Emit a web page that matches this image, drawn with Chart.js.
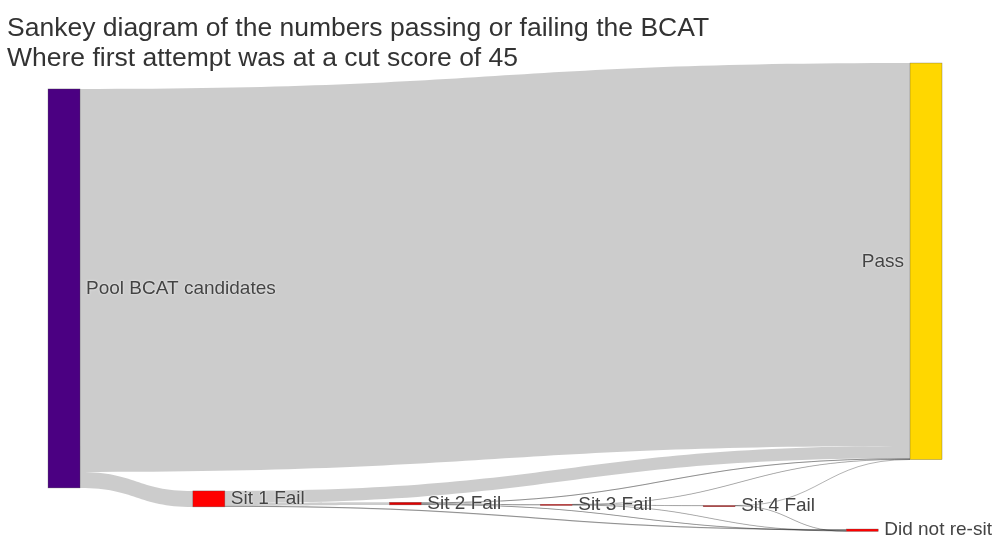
<!DOCTYPE html>
<html>
<head>
<meta charset="utf-8">
<script src="https://cdn.jsdelivr.net/npm/chart.js@4.4.1/dist/chart.umd.min.js"></script>
<style>
  html, body { margin: 0; padding: 0; background: #ffffff; }
  #wrap { width: 992px; height: 537px; position: relative; }
</style>
</head>
<body>
<div id="wrap"><canvas id="c"></canvas></div>
<script>
// ---- data ----
const titleLines = [
  'Sankey diagram of the numbers passing or failing the BCAT',
  'Where first attempt was at a cut score of 45'
];
const nodeLabels = ['Pool BCAT candidates', 'Sit 1 Fail', 'Sit 2 Fail', 'Sit 3 Fail', 'Sit 4 Fail', 'Did not re-sit', 'Pass'];
const linkSource = [0, 0, 1, 1, 1, 2, 2, 2, 3, 3, 3, 4, 4];
const linkTarget = [6, 1, 6, 2, 5, 6, 3, 5, 6, 4, 5, 6, 5];
const linkValue  = [1920, 80, 61, 13, 6, 5, 5, 3, 1, 2, 2, 1, 1];

// ---- layout / style (like plotly node.x / node.y) ----
const nodeX   = [0, 0.168, 0.396, 0.571, 0.760, 0.926, 1];
const nodeTop = [130, 2145, 2202, 2212, 2218, 2336, 0];
const nodeColor = ['#4B0082', '#FF0000', '#E00000', '#E00000', '#C00000', '#FF0000', '#FFD700'];
const nodeThickness = 32;
const labelSide = ['right', 'right', 'right', 'right', 'right', 'right', 'left'];

const sankeyPlugin = {
  id: 'sankeyDraw',
  afterDatasetsDraw(chart) {
    const ctx = chart.ctx;
    const xs = chart.scales.x, ys = chart.scales.y;
    const unit = Math.abs(ys.getPixelForValue(1) - ys.getPixelForValue(0));
    const n = nodeLabels.length;
    const inSum = new Array(n).fill(0), outSum = new Array(n).fill(0);
    linkValue.forEach((v, i) => { outSum[linkSource[i]] += v; inSum[linkTarget[i]] += v; });
    const nodes = nodeLabels.map((l, i) => {
      const val = Math.max(inSum[i], outSum[i]);
      const top = ys.getPixelForValue(nodeTop[i]);
      const left = xs.getPixelForValue(nodeX[i]);
      return { left, right: left + nodeThickness, top, h: val * unit };
    });
    const outOff = new Array(linkValue.length), inOff = new Array(linkValue.length);
    for (let k = 0; k < n; k++) {
      const outs = linkValue.map((v, i) => i).filter(i => linkSource[i] === k)
        .sort((a, b) => nodeTop[linkTarget[a]] - nodeTop[linkTarget[b]]);
      let acc = 0;
      outs.forEach(i => { outOff[i] = acc; acc += linkValue[i] * unit; });
      const ins = linkValue.map((v, i) => i).filter(i => linkTarget[i] === k)
        .sort((a, b) => nodeTop[linkSource[a]] - nodeTop[linkSource[b]]);
      acc = 0;
      ins.forEach(i => { inOff[i] = acc; acc += linkValue[i] * unit; });
    }
    ctx.save();
    // links
    linkValue.forEach((v, i) => {
      const s = nodes[linkSource[i]], t = nodes[linkTarget[i]];
      const w = v * unit;
      const x0 = s.right, x1 = t.left, xm = (x0 + x1) / 2;
      const y0 = s.top + outOff[i], y1 = t.top + inOff[i];
      ctx.beginPath();
      ctx.moveTo(x0, y0);
      ctx.bezierCurveTo(xm, y0, xm, y1, x1, y1);
      ctx.lineTo(x1, y1 + w);
      ctx.bezierCurveTo(xm, y1 + w, xm, y0 + w, x0, y0 + w);
      ctx.closePath();
      ctx.fillStyle = 'rgba(0,0,0,0.2)';
      ctx.fill();
      if (w < 1.5) {
        ctx.beginPath();
        ctx.moveTo(x0, y0 + w / 2);
        ctx.bezierCurveTo(xm, y0 + w / 2, xm, y1 + w / 2, x1, y1 + w / 2);
        ctx.strokeStyle = 'rgba(0,0,0,0.3)';
        ctx.lineWidth = 1;
        ctx.stroke();
      }
    });
    // nodes
    nodes.forEach((nd, i) => {
      const h = Math.max(nd.h, 1.2);
      ctx.fillStyle = nodeColor[i];
      ctx.fillRect(nd.left, nd.top, nodeThickness, h);
      ctx.strokeStyle = 'rgba(68,68,68,0.6)';
      ctx.lineWidth = 0.5;
      ctx.strokeRect(nd.left, nd.top, nodeThickness, h);
    });
    // labels
    ctx.font = '19px "Liberation Sans", Arial, sans-serif';
    ctx.textBaseline = 'middle';
    ctx.fillStyle = '#444';
    ctx.shadowColor = 'rgba(255,255,255,0.9)';
    ctx.shadowBlur = 2;
    nodes.forEach((nd, i) => {
      const cy = nd.top + Math.max(nd.h, 1.2) / 2;
      if (labelSide[i] === 'left') {
        ctx.textAlign = 'right';
        ctx.fillText(nodeLabels[i], nd.left - 6, cy);
      } else {
        ctx.textAlign = 'left';
        ctx.fillText(nodeLabels[i], nd.right + 6, cy);
      }
    });
    ctx.restore();
  }
};

new Chart(document.getElementById('c'), {
  type: 'scatter',
  data: { datasets: [{ data: [], pointRadius: 0 }] },
  options: {
    responsive: true,
    maintainAspectRatio: false,
    animation: false,
    events: [],
    layout: { padding: { left: 7, right: 7, top: 0, bottom: 0 } },
    scales: {
      x: { type: 'linear', display: false, min: -0.0476, max: 1.087 },
      y: { type: 'linear', display: false, reverse: true, min: 55, max: 2376 }
    },
    plugins: {
      legend: { display: false },
      tooltip: { enabled: false },
      title: {
        display: true,
        text: titleLines,
        align: 'start',
        color: '#333',
        font: { family: '"Liberation Sans", Arial, sans-serif', size: 26.5, weight: 'normal', lineHeight: 1.132 },
        padding: { top: 14, bottom: 0 }
      }
    }
  },
  plugins: [sankeyPlugin]
});
</script>
</body>
</html>
